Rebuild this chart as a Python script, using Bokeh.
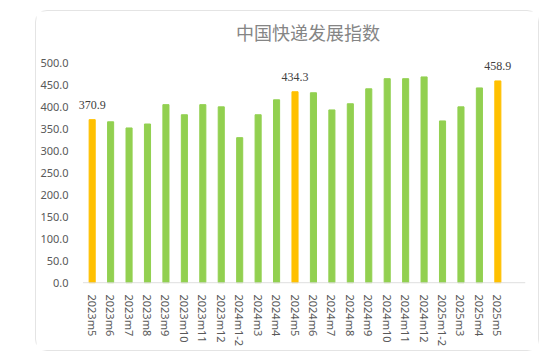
from bokeh.plotting import figure
from bokeh.models import (ColumnDataSource, Range1d, FixedTicker, NumeralTickFormatter, Spacer,
                          LabelSet, Label)
from bokeh.layouts import row, column
from bokeh.embed import file_html
from bokeh.resources import INLINE

title_text = "中国快递发展指数"
categories = ["2023m5", "2023m6", "2023m7", "2023m8", "2023m9", "2023m10", "2023m11",
              "2023m12", "2024m1-2", "2024m3", "2024m4", "2024m5", "2024m6", "2024m7",
              "2024m8", "2024m9", "2024m10", "2024m11", "2024m12", "2025m1-2", "2025m3",
              "2025m4", "2025m5"]
values = [370.9, 366, 352, 361, 405, 382, 405, 400, 330, 382, 416, 434.3, 432, 393,
          407, 441, 464, 464, 468, 368, 400, 443, 458.9]
highlight = ["2023m5", "2024m5", "2025m5"]
y_ticks = [0, 50, 100, 150, 200, 250, 300, 350, 400, 450, 500]

GREEN = "#92D050"
ORANGE = "#FFC000"

xs = list(range(len(categories)))
colors = [ORANGE if c in highlight else GREEN for c in categories]
src = ColumnDataSource(dict(x=xs, top=values, color=colors))

hx = [i for i, c in enumerate(categories) if c in highlight]
hv = [values[i] for i in hx]
lab_src = ColumnDataSource(dict(x=hx, y=hv, t=["%.1f" % v for v in hv]))

p = figure(width=504, height=341, output_backend="svg", toolbar_location=None,
           x_range=Range1d(-0.85, len(categories) + 0.5), y_range=Range1d(-1.5, 616.7),
           min_border_left=40, min_border_right=15, min_border_top=0, min_border_bottom=69)
p.styles = {"border": "1px solid #e4e4e4", "border-radius": "12px"}
p.outline_line_color = None
p.background_fill_color = "white"
p.border_fill_color = "white"

p.vbar(x="x", top="top", width=0.33, color="color", source=src)
p.segment(x0=[-0.5], y0=[0], x1=[len(categories) + 0.5], y1=[0],
          line_color="#d9d9d9", line_width=1)

labels = LabelSet(x="x", y="y", text="t", source=lab_src, text_align="center",
                  text_baseline="middle", y_offset=15, text_font="Noto Sans",
                  text_font_size="12px", text_color="#404040")
p.add_layout(labels)

title = Label(x=11.7, y=571, text=title_text, text_align="center", text_baseline="middle",
              text_font="Noto Sans CJK SC", text_font_size="18px", text_color="#858585")
p.add_layout(title)

p.xgrid.visible = False
p.ygrid.visible = False

xa = p.xaxis[0]
xa.ticker = FixedTicker(ticks=xs)
xa.major_label_overrides = {i: c for i, c in enumerate(categories)}
xa.major_label_orientation = "vertical"
xa.major_tick_line_color = None
xa.minor_tick_line_color = None
xa.axis_line_color = None
xa.major_label_text_font = "Noto Sans"
xa.major_label_text_font_size = "11px"
xa.major_label_text_color = "#595959"
xa.major_label_standoff = 5

ya = p.yaxis[0]
ya.ticker = FixedTicker(ticks=y_ticks)
ya.formatter = NumeralTickFormatter(format="0.0")
ya.axis_line_color = None
ya.major_tick_line_color = None
ya.minor_tick_line_color = None
ya.major_label_text_font = "Noto Sans"
ya.major_label_text_font_size = "11px"
ya.major_label_text_color = "#595959"
ya.major_label_standoff = 2

layout = row(Spacer(width=35, height=10), column(Spacer(width=10, height=10), p))

open("out.html", "w").write(file_html(layout, INLINE))
